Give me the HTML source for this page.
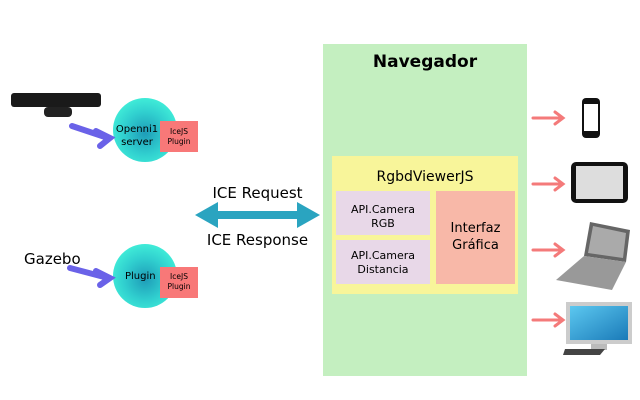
<html><body style="margin:0;width:640px;height:400px;background:#fff;position:relative;overflow:hidden;font-family:'DejaVu Sans','Liberation Sans',sans-serif">
<svg width="640" height="400" style="position:absolute;left:0;top:0">
<defs>
<radialGradient id="g" cx="0.5" cy="0.55" r="0.55"><stop offset="0" stop-color="#1e9cb8"/><stop offset="0.6" stop-color="#30cfcf"/><stop offset="1" stop-color="#40ecd8"/></radialGradient>
<linearGradient id="sc" x1="0" y1="0" x2="1" y2="1"><stop offset="0" stop-color="#5cc8f0"/><stop offset="1" stop-color="#1a7ab8"/></linearGradient>
</defs>
<rect x="323" y="44" width="204" height="332" fill="#c4efc0"/>
<rect x="332" y="156" width="186" height="138" fill="#f8f59a"/>
<rect x="336" y="191" width="94" height="44" fill="#e8d8e8"/>
<rect x="336" y="240" width="94" height="44" fill="#e8d8e8"/>
<rect x="436" y="191" width="79" height="93" fill="#f8b8a8"/>
<rect x="11" y="93" width="90" height="14" rx="3" fill="#1a1a1a"/>
<rect x="44" y="107" width="28" height="10" rx="4" fill="#222"/>
<circle cx="145" cy="130" r="32" fill="url(#g)"/>
<circle cx="145" cy="276" r="32" fill="url(#g)"/>
<rect x="160" y="121" width="38" height="31" fill="#f87878"/>
<rect x="160" y="267" width="38" height="31" fill="#f87878"/>
<g stroke="#6a62e8" stroke-width="6" fill="none" stroke-linecap="round"><path d="M72 126 L108 138 M96 131 L110 138 L100 146"/><path d="M70 268 L108 278 M96 271 L110 278 L100 285"/></g>
<g fill="#2aa4c0"><rect x="210" y="211" width="95" height="8"/><polygon points="195,215 218,202 218,228"/><polygon points="320,215 297,202 297,228"/></g>
<g stroke="#f47a7a" stroke-width="3" fill="none" stroke-linecap="round"><path d="M533 118 L562 118 M555 112 L563 118 L555 124"/><path d="M533 184 L562 184 M555 178 L563 184 L555 190"/><path d="M533 250 L562 250 M555 244 L563 250 L555 256"/><path d="M533 320 L562 320 M555 314 L563 320 L555 326"/></g>
<rect x="582" y="98" width="18" height="40" rx="4" fill="#111"/><rect x="584" y="104" width="14" height="27" fill="#fff"/>
<rect x="571" y="162" width="57" height="41" rx="5" fill="#111"/><rect x="576" y="166" width="47" height="33" fill="#ddd"/>
<polygon points="590,222 630,230 626,262 584,256" fill="#666"/><polygon points="593,226 626,233 623,258 588,253" fill="#aaa"/>
<polygon points="584,256 626,262 612,290 556,280" fill="#999"/>
<rect x="566" y="302" width="66" height="42" fill="#ccc"/><rect x="570" y="306" width="58" height="34" fill="url(#sc)"/>
<rect x="591" y="344" width="16" height="6" fill="#bbb"/><polygon points="565,349 605,349 600,355 563,355" fill="#444"/>
</svg>
<div style="position:absolute;left:323px;top:52px;width:204px;text-align:center;font-weight:bold;font-size:17px">Navegador</div>
<div style="position:absolute;left:332px;top:169px;width:186px;text-align:center;font-size:14px">RgbdViewerJS</div>
<div style="position:absolute;left:336px;top:203px;width:94px;text-align:center;font-size:11px;line-height:14px">API.Camera<br>RGB</div>
<div style="position:absolute;left:336px;top:249px;width:94px;text-align:center;font-size:11px;line-height:14px">API.Camera<br>Distancia</div>
<div style="position:absolute;left:436px;top:220px;width:79px;text-align:center;font-size:13px;line-height:17px">Interfaz<br>Gráfica</div>
<div style="position:absolute;left:111px;top:123px;width:52px;text-align:center;font-size:10px;line-height:13px">Openni1<br>server</div>
<div style="position:absolute;left:125px;top:271px;font-size:10px">Plugin</div>
<div style="position:absolute;left:160px;top:127px;width:38px;text-align:center;font-size:7.5px;line-height:10px">IceJS<br>Plugin</div>
<div style="position:absolute;left:160px;top:272px;width:38px;text-align:center;font-size:7.5px;line-height:10px">IceJS<br>Plugin</div>
<div style="position:absolute;left:24px;top:250px;font-size:15px">Gazebo</div>
<div style="position:absolute;left:195px;top:184px;width:125px;text-align:center;font-size:15px">ICE Request</div>
<div style="position:absolute;left:195px;top:231px;width:125px;text-align:center;font-size:15px">ICE Response</div>
</body></html>
